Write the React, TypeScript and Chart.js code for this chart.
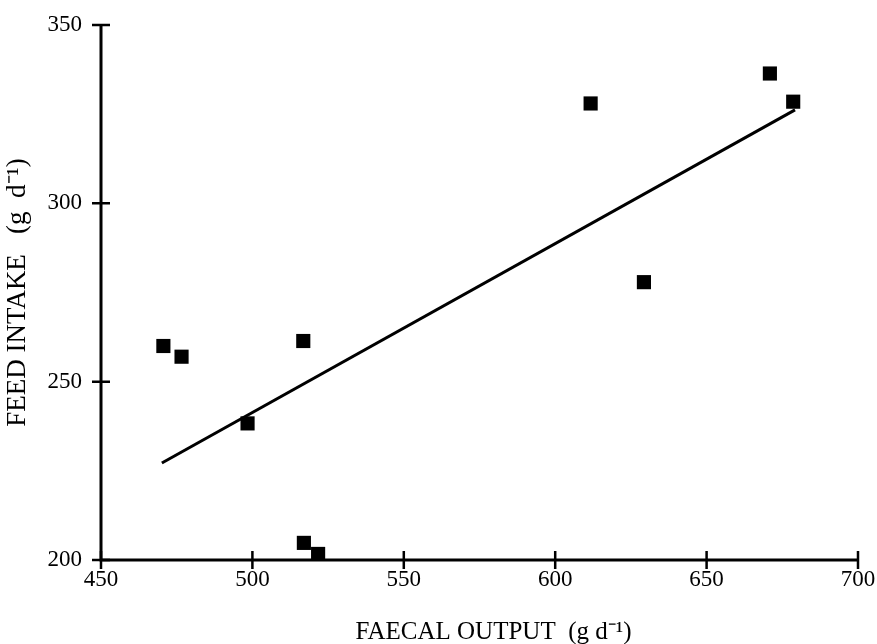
import React, { useEffect, useRef } from "react";
import { Chart, registerables } from "chart.js";

Chart.register(...registerables);

const faecalOutput = [470.6, 476.6, 498.4, 516.8, 517.0, 521.7, 611.7, 629.3, 670.9, 678.6];
const feedIntake = [260.0, 257.0, 238.3, 261.4, 204.8, 201.7, 328.0, 277.9, 336.4, 328.5];
const fitX = [470.1, 679.2];
const fitY = [227.2, 326.2];
const xLimits = [450, 700];
const yLimits = [200, 350];
const tickStep = 50;
const xTitle = "FAECAL OUTPUT  (g d\u207B\u00B9)";
const yTitle = "FEED INTAKE   (g  d\u207B\u00B9)";

const FONT = "'Liberation Serif', 'Times New Roman', serif";

const axesPlugin = {
  id: "crossAxes",
  beforeDatasetsDraw(chart: any) {
    const { ctx, chartArea, scales } = chart;
    const { left, right, top, bottom } = chartArea;
    const x = scales.x;
    const y = scales.y;
    ctx.save();
    ctx.strokeStyle = "#000";
    ctx.lineWidth = 3;
    ctx.beginPath();
    ctx.moveTo(left, top);
    ctx.lineTo(left, bottom);
    ctx.lineTo(right, bottom);
    ctx.stroke();
    ctx.lineWidth = 2.5;
    ctx.beginPath();
    x.ticks.forEach((t: any) => {
      const px = x.getPixelForValue(t.value);
      ctx.moveTo(px, bottom - 9);
      ctx.lineTo(px, bottom + 9);
    });
    y.ticks.forEach((t: any) => {
      const py = y.getPixelForValue(t.value);
      ctx.moveTo(left - 9, py);
      ctx.lineTo(left + 9, py);
    });
    ctx.stroke();
    // x axis title, slightly right of centre as in the source figure
    ctx.fillStyle = "#000";
    ctx.font = `25px ${FONT}`;
    ctx.textAlign = "center";
    ctx.textBaseline = "middle";
    ctx.fillText(xTitle, (left + right) / 2 + 14, x.bottom - 12);
    ctx.restore();
  },
};

export default function App() {
  const ref = useRef<HTMLCanvasElement | null>(null);

  useEffect(() => {
    document.body.style.margin = "0";
    const canvas = ref.current;
    if (!canvas) return;
    const points = faecalOutput.map((v, i) => ({ x: v, y: feedIntake[i] }));
    const fit = fitX.map((v, i) => ({ x: v, y: fitY[i] }));
    const chart = new Chart(canvas, {
      type: "scatter",
      data: {
        datasets: [
          {
            type: "line",
            data: fit,
            borderColor: "#000",
            borderWidth: 3,
            pointRadius: 0,
            fill: false,
          } as any,
          {
            data: points,
            pointStyle: "rect",
            pointRadius: 10,
            pointHoverRadius: 10,
            backgroundColor: "#000",
            borderColor: "#000",
            borderWidth: 0,
          },
        ],
      },
      options: {
        animation: false,
        responsive: false,
        devicePixelRatio: 1,
        layout: { padding: { top: 25, right: 19, left: 0, bottom: 0 } },
        plugins: { legend: { display: false }, tooltip: { enabled: false } },
        scales: {
          x: {
            type: "linear",
            min: xLimits[0],
            max: xLimits[1],
            grid: { display: false, drawTicks: false },
            border: { display: false },
            ticks: {
              stepSize: tickStep,
              color: "#000",
              padding: 6,
              font: { family: FONT, size: 23 },
            },
            title: { display: false },
            afterFit: (s: any) => {
              s.height = 84;
              s.paddingLeft = 0;
              s.paddingRight = 0;
            },
          },
          y: {
            type: "linear",
            min: yLimits[0],
            max: yLimits[1],
            grid: { display: false, drawTicks: false },
            border: { display: false },
            ticks: {
              stepSize: tickStep,
              color: "#000",
              padding: 19,
              font: { family: FONT, size: 23 },
            },
            title: {
              display: true,
              text: yTitle,
              color: "#000",
              font: { family: FONT, size: 27 },
              padding: { top: 2, bottom: 0 },
            },
            afterFit: (s: any) => {
              s.width = 101;
              s.paddingTop = 0;
              s.paddingBottom = 0;
            },
          },
        },
      },
      plugins: [axesPlugin],
    });
    return () => chart.destroy();
  }, []);

  return (
    <div style={{ position: "absolute", left: 0, top: 0, width: 877, height: 644, background: "#fff" }}>
      <canvas ref={ref} width={877} height={644} />
    </div>
  );
}
